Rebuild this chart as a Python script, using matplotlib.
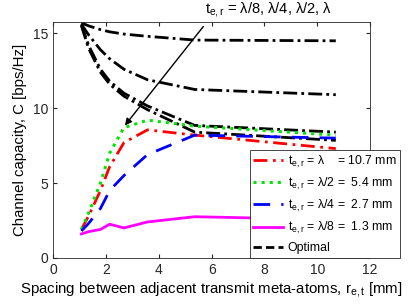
import matplotlib.pyplot as plt

plt.rcParams['font.family'] = ['Liberation Sans', 'DejaVu Sans']
plt.rcParams['mathtext.fontset'] = 'custom'
plt.rcParams['mathtext.rm'] = 'Liberation Sans'
plt.rcParams['mathtext.it'] = 'Liberation Sans'

# spacing between transmit meta-atoms [mm] (lambda/10 ... lambda)
spacing = [1.07, 1.34, 1.79, 2.14, 2.68, 3.57, 5.36, 10.7]

cap_lam = [1.9, 2.8, 4.5, 6.1, 7.7, 8.55, 8.2, 7.3]
cap_lam2 = [1.9, 3.0, 5.0, 7.0, 8.7, 9.2, 8.8, 8.2]
cap_lam4 = [1.8, 2.3, 3.3, 4.5, 5.5, 6.9, 8.2, 8.0]
cap_lam8 = [1.6, 1.75, 1.9, 2.25, 2.0, 2.4, 2.75, 2.55]

opt_lam8 = [15.7, 15.5, 15.25, 15.1, 14.95, 14.8, 14.55, 14.5]
opt_lam4 = [15.6, 14.9, 13.9, 13.3, 12.6, 11.9, 11.25, 10.9]
opt_lam2 = [15.6, 14.2, 12.6, 11.8, 11.0, 10.15, 8.85, 8.4]
opt_lam = [15.5, 14.0, 12.4, 11.6, 10.8, 9.9, 8.4, 7.85]

labels = [r'$\mathrm{t_{e,r}}$ = λ    = 10.7 mm',
          r'$\mathrm{t_{e,r}}$ = λ/2 =  5.4 mm',
          r'$\mathrm{t_{e,r}}$ = λ/4 =  2.7 mm',
          r'$\mathrm{t_{e,r}}$ = λ/8 =  1.3 mm',
          'Optimal']

fig = plt.figure(figsize=(4.09, 3.07), dpi=100)
ax = fig.add_axes([0.13, 0.16, 0.775, 0.768])

for opt in [opt_lam8, opt_lam4, opt_lam2, opt_lam]:
    ax.plot(spacing, opt, color='black', ls=(0, (5, 1.5, 1, 1.5)), lw=2)

l1, = ax.plot(spacing, cap_lam, color='red', ls=(0, (5, 2, 1, 2)), lw=2)
l2, = ax.plot(spacing, cap_lam2, color='#00e600', ls=':', lw=2.2)
l3, = ax.plot(spacing, cap_lam4, color='blue', ls=(0, (6, 4)), lw=2)
l4, = ax.plot(spacing, cap_lam8, color='magenta', ls='-', lw=2)
l5, = ax.plot([], [], color='black', ls=(0, (3, 1.5)), lw=2)

ax.annotate('', xy=(2.65, 8.7), xytext=(5.75, 15.6),
            arrowprops=dict(arrowstyle='-|>', color='black', lw=1,
                            mutation_scale=10), annotation_clip=False)
ax.text(5.75, 15.95, r'$\mathrm{t_{e,r}}$ = λ/8, λ/4, λ/2, λ',
        fontsize=10.5, ha='left', va='bottom')

ax.set_xlim(0, 12)
ax.set_ylim(0, 15.75)
ax.set_xticks(range(0, 13, 2))
ax.set_yticks([0, 5, 10, 15])
ax.tick_params(direction='in', top=True, right=True, labelsize=10,
               length=3, colors='#262626')
for s in ax.spines.values():
    s.set_color('#262626')
    s.set_linewidth(0.6)

ax.set_xlabel(r'Spacing between adjacent transmit meta-atoms, $\mathrm{r_{e,t}}$ [mm]',
              fontsize=10.8, labelpad=2)
ax.set_ylabel('Channel capacity, C [bps/Hz]', fontsize=10.8, labelpad=4)

leg = ax.legend([l1, l2, l3, l4, l5], labels, loc='lower left',
                bbox_to_anchor=(0.62, 0.0, 0.475, 0.44), mode='expand',
                fontsize=8.8, handlelength=2.4, handletextpad=0.4,
                borderpad=0.3, borderaxespad=0.0, labelspacing=0.5,
                fancybox=False, framealpha=1, edgecolor='#262626')
leg.get_frame().set_linewidth(0.6)

fig.savefig('out.png', dpi=100)
